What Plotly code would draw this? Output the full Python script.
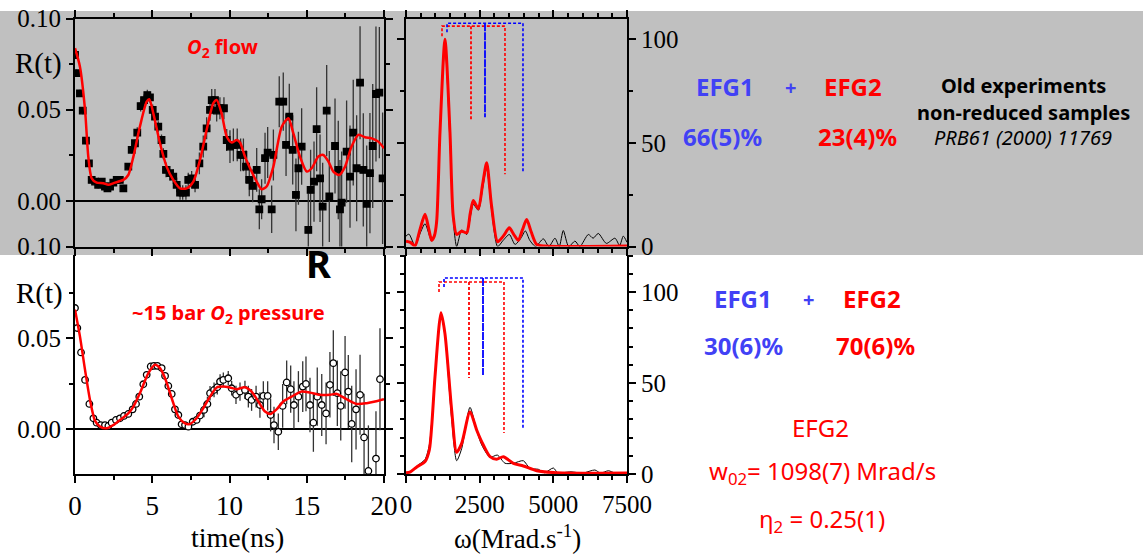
import plotly.graph_objects as go

# ---------------- data ----------------
# top-left: R(t), O2 flow
t1 = [0.0,0.1,0.32,0.5,0.71,0.9,1.08,1.3,1.5,1.73,1.94,2.1,2.27,2.48,2.7,2.9,3.13,3.45,3.67,3.88,
      4.03,4.25,4.47,4.68,4.85,5.03,5.18,5.39,5.6,5.72,5.89,6.15,6.36,6.58,6.8,6.97,7.18,7.33,7.55,7.77,
      8.05,8.3,8.52,8.74,8.85,9.06,9.17,9.38,9.64,9.82,10.03,10.25,10.5,10.72,10.9,11.07,11.28,11.5,
      11.76,11.93,12.08,12.3,12.47,12.73,12.84,13.22,13.48,13.66,13.87,14.09,14.3,14.46,14.67,
      15.1,15.25,15.47,15.64,15.86,16.03,16.29,16.46,16.83,17.04,17.15,17.26,17.58,17.8,18.01,18.23,
      18.45,18.66,18.88,19.09,19.27,19.48,19.7,19.91]
r1 = [0.080,0.070,0.059,0.0495,0.033,0.0206,0.0115,0.0106,0.0088,0.0106,0.0079,0.0069,0.0079,0.010,0.0115,0.0115,0.0069,0.0188,0.028,0.0316,
      0.0374,0.052,0.0553,0.058,0.0568,0.0499,0.0462,0.0407,0.0334,0.0258,0.017,0.0152,0.0133,0.0088,0.0046,0.0046,0.0046,0.0115,0.0124,0.0088,
      0.0206,0.0298,0.0398,0.0499,0.0553,0.0553,0.0495,0.0508,0.0508,0.0334,0.0298,0.0307,0.0307,0.0252,0.0252,0.0188,0.0115,0.0082,
      0.017,-0.0046,0.0009,0.0234,0.0265,-0.0046,0.0252,0.0544,0.0544,0.0307,0.0462,0.028,0.0033,0.0179,0.0298,
      -0.0159,0.006,0.0106,0.0393,0.0124,-0.0031,0.0495,0.0024,0.0301,0.017,-0.0046,-0.0009,0.027,0.0133,0.0374,0.0179,
      0.0648,0.017,-0.0016,0.0152,0.0301,0.0586,0.0594,0.0124]
e1 = [0.002,0.002,0.002,0.002,0.002,0.002,0.002,0.002,0.002,0.002,0.002,0.002,0.002,0.002,0.002,0.002,0.002,0.002,0.002,0.002,
      0.003,0.003,0.003,0.003,0.003,0.003,0.003,0.003,0.003,0.003,0.004,0.004,0.004,0.004,0.004,0.004,0.004,0.004,0.004,0.004,
      0.006,0.006,0.006,0.006,0.006,0.006,0.006,0.006,0.006,0.006,0.009,0.009,0.009,0.009,0.009,0.009,0.009,0.009,
      0.012,0.011,0.011,0.014,0.014,0.013,0.014,0.014,0.016,0.017,0.018,0.019,0.020,0.020,0.021,
      0.020,0.022,0.022,0.023,0.024,0.024,0.025,0.025,0.026,0.027,0.027,0.028,0.028,0.028,0.029,0.029,
      0.031,0.031,0.032,0.033,0.034,0.037,0.036,0.036]
tf1 = [0,0.32,0.65,0.86,1.08,1.4,1.83,2.16,2.59,3.13,3.45,3.78,4.2,4.64,4.81,5.07,5.5,5.93,6.36,6.8,
       7.23,7.66,8.09,8.52,8.95,9.17,9.49,9.82,10.14,10.46,10.68,11.0,11.33,11.76,12.08,12.4,12.84,13.38,13.81,14.13,
       14.56,15.0,15.32,15.75,16.07,16.4,16.72,17.1,17.48,17.9,18.34,18.77,19.2,19.63,20]
rf1 = [0.0837,0.0736,0.0499,0.0243,0.0124,0.010,0.0097,0.0088,0.010,0.0115,0.0142,0.0243,0.0407,0.0544,0.0557,0.048,0.0316,0.0188,0.0115,0.0069,
       0.0069,0.0106,0.0225,0.0389,0.0535,0.0553,0.048,0.0353,0.032,0.0334,0.032,0.0243,0.0179,0.0106,0.0064,0.0079,0.0188,0.0407,0.0453,0.0371,
       0.0243,0.0161,0.0179,0.0243,0.0252,0.0216,0.0161,0.0142,0.0188,0.0298,0.0362,0.0349,0.0343,0.0325,0.0289]

# bottom-left: R(t), ~15 bar O2
t2 = [0,0.15,0.39,0.65,0.93,1.19,1.4,1.66,1.94,2.16,2.37,2.65,2.91,3.17,3.45,3.73,3.95,4.16,4.42,4.64,
      4.9,5.11,5.33,5.61,5.83,6.04,6.26,6.47,6.69,6.9,7.12,7.34,7.62,7.87,8.09,8.35,8.57,8.74,9.0,9.21,
      9.39,9.6,9.92,10.14,10.42,10.68,11.0,11.22,11.43,11.72,11.97,12.19,12.47,12.66,12.88,13.16,13.44,13.7,13.96,14.17,
      14.46,14.74,14.95,15.21,15.43,15.68,15.97,16.25,16.5,16.72,16.98,17.2,17.48,17.69,17.91,18.19,18.45,18.71,18.99,19.48,19.74]
r2 = [0.0665,0.0555,0.0421,0.027,0.0138,0.0059,0.0035,0.0022,0.0022,0.0017,0.0035,0.005,0.0059,0.0072,0.0083,0.0108,0.0138,0.0178,0.0246,0.0298,
      0.0344,0.0347,0.0347,0.0335,0.0292,0.0237,0.0193,0.0108,0.0077,0.0026,0.0022,0.0013,0.004,0.005,0.0074,0.0105,0.0138,0.0197,0.0215,0.023,
      0.0261,0.027,0.0279,0.0224,0.0188,0.0206,0.0215,0.0178,0.016,0.0178,0.0132,0.0182,0.0182,0.0077,0.0022,-0.0015,0.0127,0.0256,0.0219,0.0132,
      0.0178,0.0233,0.0248,0.0132,0.0035,0.0178,0.0132,0.0086,0.0243,0.0362,0.0197,0.0127,0.0311,0.0206,0.0028,0.0108,0.0188,-0.0046,-0.023,-0.0162,0.0274]
e2 = [0.0015,0.0015,0.0015,0.0015,0.0015,0.0015,0.0015,0.0015,0.0015,0.0015,0.0015,0.0015,0.0015,0.0015,0.0015,0.0015,0.0015,0.0015,0.0015,0.0015,
      0.0015,0.0015,0.0015,0.0015,0.0015,0.0015,0.0015,0.0015,0.0015,0.0015,0.0015,0.0015,0.0015,0.0015,0.0015,
      0.004,0.004,0.004,0.004,0.004,0.004,0.004,0.004,
      0.004,0.005,0.005,0.005,0.006,0.006,0.006,
      0.007,0.008,0.008,0.009,0.010,0.010,
      0.012,0.012,0.013,0.013,0.014,0.014,0.015,
      0.015,0.016,0.016,0.017,0.017,0.018,0.018,
      0.018,0.019,0.020,0.020,0.021,0.022,0.022,0.024,0.025,0.026,0.028]
tf2 = [0,0.32,0.65,0.97,1.29,1.62,2.05,2.48,2.91,3.45,3.78,4.2,4.75,5.18,5.5,5.83,6.26,6.69,7.12,7.44,
       7.87,8.3,8.74,9.17,9.6,10.03,10.46,11.0,11.43,11.87,12.3,12.66,13.05,13.48,14.02,14.67,15.21,15.86,16.5,16.94,
       17.58,18.23,18.88,19.42,20]
rf2 = [0.0656,0.0509,0.0325,0.016,0.0046,0.0013,0.0004,0.0022,0.005,0.0086,0.0123,0.0197,0.0307,0.0353,0.0335,0.0279,0.0169,0.0068,0.0031,0.0028,
       0.0059,0.0114,0.0178,0.0228,0.0233,0.0228,0.0219,0.023,0.0206,0.0151,0.0096,0.0083,0.0108,0.0151,0.0178,0.0206,0.02,0.0188,0.0188,0.0193,
       0.0164,0.0138,0.0142,0.0151,0.0164]

# top-middle spectra
w_fit_top = [0,150,305,470,645,780,872,960,1040,1153,1323,1493,1600,1720,1890,2060,2180,2285,2455,2600,2738,2900,3110,3300,3507,3650,3812,3950,4095,4250,4434,4700,7500]
s_fit_top = [2.6,2,0.3,8,15.5,8,3,5,12,55,100,55,15,5.8,7.4,6.6,16,22.2,18.2,30,40.4,20,2.3,5,9,6,3,8,13,7,1,0.2,0.2]
w_exp_top = [0,100,310,470,645,800,872,1000,1153,1323,1493,1620,1720,1890,2060,2180,2285,2455,2600,2738,2900,3110,3300,3507,3700,3900,4050,4200,4400,
             4660,4850,5056,5200,5338,5520,5735,5900,6187,6350,6526,6800,7092,7250,7374,7500]
s_exp_top = [5,6,0.3,6,11,5,2.6,8,55,97,50,10,0,8,5.8,14,20.3,17.5,28,38,18,0,3,5.8,1,4,7.5,3,0,
             3.7,0,4,0,7.7,0,2.6,0,5.8,4,6.3,1.5,4,0.5,5,2]

# bottom-middle spectra
w_fit_bot = [0,150,377,645,792,880,984,1188,1323,1550,1720,1890,2172,2398,2568,2851,3077,3303,3643,3982,4434,5113,7500]
s_fit_bot = [0.7,1.2,4,6.8,13.2,28,53.5,88.6,77,35,11.9,16.8,34.2,24.2,17.8,9.5,8.1,9.5,5.9,4.4,1.8,0.7,0.5]
w_exp_bot = [0,150,377,645,792,880,984,1188,1323,1550,1720,1890,2172,2398,2568,2851,3100,3360,3643,3982,4208,4490,4700,5000,5150,5600,6000,6410,6600,6870,7100,7500]
s_exp_bot = [0.5,1,4.5,8,16,30,55,88,76,30,7.3,14,36.6,24,16,9.2,10.4,5.9,5.9,7.3,3,2.6,0.7,3.3,0.7,1.2,0.5,2.2,0.5,1.8,0.5,0.5]

# NQI frequency markers (w1, w2, w3), heights and bracket level
red_w_top = [1222, 2206, 3359];  red_h_top = [101.4, 60.4, 34.8];  red_lvl_top = 106.3
blue_w_top = [1391, 2681, 3970]; blue_h_top = [103.4, 62.3, 36.2]; blue_lvl_top = 107.7
red_w_bot = [1120, 2138, 3325];  red_h_bot = [100.0, 52.7, 22.5];  red_lvl_bot = 105.5
blue_w_bot = [1290, 2613, 3970]; blue_h_bot = [102.7, 54.4, 24.7]; blue_lvl_bot = 107.7

t_ticks = [0, 5, 10, 15, 20]
w_ticks = [0, 2500, 5000, 7500]
r_ticks_top = [-0.025, 0, 0.05, 0.10]
r_labels_top = ["0.10", "0.00", "0.05", "0.10"]

# ---------------- figure ----------------
W, H = 1143, 557
def PX(x): return x / W
def PY(y): return 1 - y / H

RED = "#ff0000"
BLUE = "#4141f5"

fig = go.Figure()

def points(t, r, e, sym, xa, ya):
    fig.add_trace(go.Scatter(
        x=t, y=r, mode="markers", xaxis=xa, yaxis=ya, showlegend=False,
        marker=dict(symbol=sym, size=6.5, color="white" if sym == "circle" else "black",
                    line=dict(color="black", width=1.3)),
        error_y=dict(type="data", array=e, color="#333333", thickness=1.3, width=0)))

def curve(x, y, xa, ya, color, width):
    fig.add_trace(go.Scatter(x=x, y=y, mode="lines", xaxis=xa, yaxis=ya, showlegend=False,
                             line=dict(color=color, width=width, shape="spline", smoothing=0.7)))

def markers(ws, hs, lvl, xa, ya, color, middash):
    bx = [ws[0], ws[0], ws[2], ws[2]]
    by = [hs[0], lvl, lvl, hs[2]]
    fig.add_trace(go.Scatter(x=bx, y=by, mode="lines", xaxis=xa, yaxis=ya, showlegend=False,
                             line=dict(color=color, width=1.6, dash="3px,2px")))
    fig.add_trace(go.Scatter(x=[ws[1], ws[1]], y=[lvl, hs[1]], mode="lines", xaxis=xa, yaxis=ya,
                             showlegend=False, line=dict(color=color, width=1.8, dash=middash)))

# top-left
points(t1, r1, e1, "square", "x", "y")
curve(tf1, rf1, "x", "y", RED, 2.5)
# bottom-left
points(t2, r2, e2, "circle", "x3", "y3")
curve(tf2, rf2, "x3", "y3", RED, 2.5)
# top-middle
markers(red_w_top, red_h_top, red_lvl_top, "x2", "y2", RED, "3px,2px")
markers(blue_w_top, blue_h_top, blue_lvl_top, "x2", "y2", "#0000ff", "8px,1px")
curve(w_exp_top, s_exp_top, "x2", "y2", "black", 1)
curve(w_fit_top, s_fit_top, "x2", "y2", RED, 3)
# bottom-middle
markers(red_w_bot, red_h_bot, red_lvl_bot, "x4", "y4", RED, "3px,2px")
markers(blue_w_bot, blue_h_bot, blue_lvl_bot, "x4", "y4", "#0000ff", "8px,1px")
curve(w_exp_bot, s_exp_bot, "x4", "y4", "black", 1)
curve(w_fit_bot, s_fit_bot, "x4", "y4", RED, 3)

TF = dict(family="Liberation Serif, Times New Roman, serif", size=25, color="black")
base = dict(showline=True, linecolor="black", linewidth=2, ticks="outside", tickcolor="black",
            tickwidth=2, ticklen=7, showgrid=False, zeroline=False, tickfont=TF, automargin=False)
def minor(d):
    return dict(ticks="outside", ticklen=4, tickcolor="black", tickwidth=2, dtick=d, tick0=0)

xl = [PX(75), PX(384)]
xm = [PX(406), PX(627)]
yt = [PY(246.5), PY(18.5)]
yb = [PY(474), PY(255)]

fig.update_layout(
    width=W, height=H, autosize=False, margin=dict(l=0, r=0, t=0, b=0, pad=0),
    paper_bgcolor="white", plot_bgcolor="rgba(0,0,0,0)", showlegend=False,
    xaxis=dict(base, domain=xl, anchor="y", range=[0, 20], tickvals=t_ticks, showticklabels=False,
               mirror="ticks", minor=minor(2.5)),
    yaxis=dict(base, domain=yt, anchor="x", range=[-0.025, 0.10], tickmode="array",
               tickvals=r_ticks_top, ticktext=r_labels_top, mirror="ticks", minor=minor(0.025),
               zeroline=True, zerolinecolor="black", zerolinewidth=2),
    xaxis2=dict(base, domain=xm, anchor="y2", range=[0, 7500], tickvals=w_ticks, showticklabels=False,
                mirror="ticks", minor=minor(500)),
    yaxis2=dict(base, domain=yt, anchor="x2", range=[0, 110], side="right", tickvals=[0, 50, 100],
                mirror="ticks", minor=minor(25)),
    xaxis3=dict(base, domain=xl, anchor="y3", range=[0, 20], tickvals=t_ticks,
                tickfont=dict(TF, size=27), minor=minor(2.5)),
    yaxis3=dict(base, domain=yb, anchor="x3", range=[-0.0247, 0.0956], tickvals=[0, 0.05],
                tickformat=".2f", mirror="ticks", minor=minor(0.025),
                zeroline=True, zerolinecolor="black", zerolinewidth=2),
    xaxis4=dict(base, domain=xm, anchor="y4", range=[0, 7500], tickvals=w_ticks, minor=minor(500)),
    yaxis4=dict(base, domain=yb, anchor="x4", range=[0, 120.3], side="right", tickvals=[0, 50, 100],
                mirror="ticks", minor=minor(10)),
    shapes=[dict(type="rect", xref="paper", yref="paper", x0=0, x1=1, y0=PY(255), y1=PY(11),
                 fillcolor="#c0c0c0", line=dict(width=0), layer="below")],
)

SERIF = "Liberation Serif, Times New Roman, serif"
SANS = "Noto Sans, sans-serif"
def note(text, x, y, size, color="black", family=SANS):
    fig.add_annotation(text=text, x=PX(x), y=PY(y), xref="paper", yref="paper", showarrow=False,
                       xanchor="center", yanchor="middle", font=dict(family=family, size=size, color=color))

note("R(t)", 38, 63, 29, family=SERIF)
note("R(t)", 39, 293, 29, family=SERIF)
note("time(ns)", 237, 537, 28, family=SERIF)
note("ω(Mrad.s<sup>-1</sup>)", 517, 537, 27, family=SERIF)
note("<b><i>O</i><sub>2</sub> flow</b>", 222, 47, 20, RED)
note("<b>~15 bar <i>O</i><sub>2</sub> pressure</b>", 228, 313, 20, RED)
note("<b>R</b>", 318, 263, 38)

note("<b>EFG1</b>", 725, 87, 24, BLUE)
note("<b>+</b>", 790, 88, 20, BLUE)
note("<b>EFG2</b>", 853, 87, 24, RED)
note("<b>66(5)%</b>", 723, 136, 24, BLUE)
note("<b>23(4)%</b>", 857, 136, 24, RED)
note("<b>Old experiments</b>", 1023, 85, 20)
note("<b>non-reduced samples</b>", 1023, 112, 20)
note("<i>PRB61 (2000) 11769</i>", 1023, 138, 20)

note("<b>EFG1</b>", 743, 298, 24, BLUE)
note("<b>+</b>", 808, 299, 20, BLUE)
note("<b>EFG2</b>", 872, 298, 24, RED)
note("<b>30(6)%</b>", 743, 345, 24, BLUE)
note("<b>70(6)%</b>", 875, 345, 24, RED)
note("EFG2", 820, 427, 24, RED)
note("w<sub>02</sub>= 1098(7) Mrad/s", 822, 472, 24, RED)
note("η<sub>2</sub> = 0.25(1)", 822, 520, 24, RED)

fig.write_html("out.html")
